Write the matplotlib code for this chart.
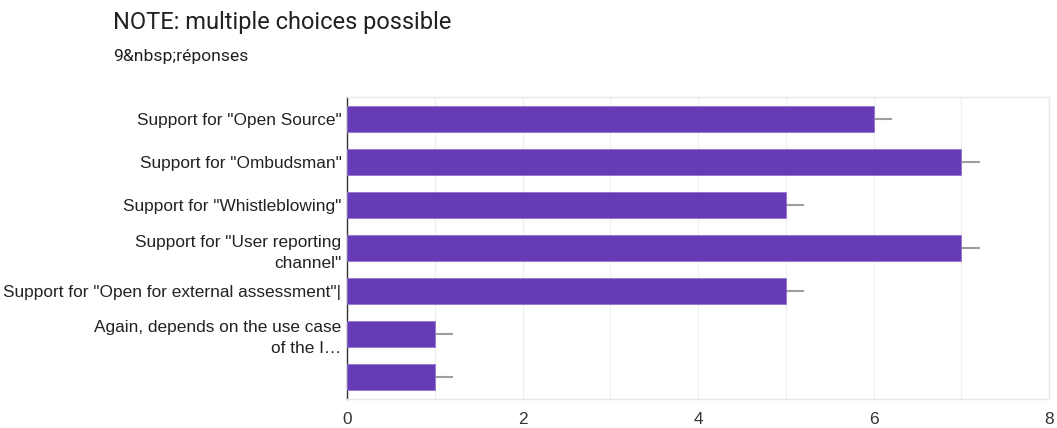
import matplotlib
matplotlib.use("Agg")
import matplotlib.pyplot as plt
import numpy as np

categories = [
    'Support for "Open Source"',
    'Support for "Ombudsman"',
    'Support for "Whistleblowing"',
    'Support for "User reporting\nchannel"',
    'Support for "Open for external assessment"|',
    'Again, depends on the use case\nof the I…',
    '',
]
values = [6, 7, 5, 7, 5, 1, 1]
whisker = [0.2, 0.2, 0.2, 0.2, 0.2, 0.2, 0.2]
xticks = [0, 2, 4, 6, 8]

fig = plt.figure(figsize=(10.57, 4.28), dpi=100)
ax = fig.add_axes([347/1057, 1 - 399/428, (1049-347)/1057, (399-97)/428])

y = np.arange(len(categories))
ax.barh(y, values, height=0.6, color='#673ab7', edgecolor='#9575cd', linewidth=0.6, zorder=3)
for yi, v, w in zip(y, values, whisker):
    ax.plot([v, v + w], [yi, yi], color='#9e9e9e', linewidth=1.5, zorder=2)

ax.set_xlim(0, 8)
ax.set_ylim(len(categories) - 0.5 + 0.02, -0.5 - 0.02)
ax.set_yticks(y)
ax.set_yticklabels(categories, fontsize=12.4, color='#222222', family=['Liberation Sans', 'DejaVu Sans'],
                   linespacing=1.5)
ax.set_xticks(xticks)
ax.set_xticklabels([str(t) for t in xticks], fontsize=12.4, color='#333333', family=['Liberation Sans', 'DejaVu Sans'])
ax.set_xticks(np.arange(0, 9, 1), minor=True)
ax.grid(axis='x', which='both', color='#f0f0f0', linewidth=1, zorder=0)
ax.tick_params(axis='both', which='both', length=0)
ax.tick_params(axis='x', pad=9)
ax.tick_params(axis='y', pad=4)

for s in ['top', 'right', 'bottom']:
    ax.spines[s].set_color('#e8e8e8')
    ax.spines[s].set_linewidth(1)
ax.spines['left'].set_color('#333333')
ax.spines['left'].set_linewidth(1)

fig.text(113/1057, 1 - 23/428, 'NOTE: multiple choices possible', fontsize=17, color='#202124',
         family=['Roboto', 'DejaVu Sans'], va='center', ha='left')
fig.text(113/1057, 1 - 56/428, '9&nbsp;réponses', fontsize=12.6, color='#202124',
         family=['Roboto', 'DejaVu Sans'], va='center', ha='left')

fig.savefig('out.png', dpi=100)
